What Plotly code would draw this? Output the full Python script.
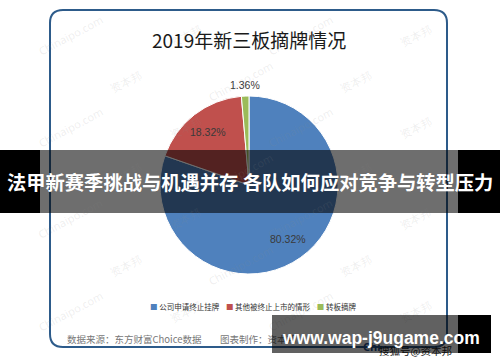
import math
import plotly.graph_objects as go

# ---- data ----
categories = ["公司申请终止挂牌", "其他被终止上市的情形", "转板摘牌"]
shares = [80.32, 18.32, 1.36]
colors = ["#4f81bd", "#c0504d", "#9bbb59"]
label_outside = [False, False, True]
title_text = "2019年新三板摘牌情况"
source_text = "数据来源：东方财富Choice数据"
maker_text = "图表制作：资本邦"
banner_text = "法甲新赛季挑战与机遇并存 各队如何应对竞争与转型压力"
site_text = "www.wap-j9ugame.com"
sohu_text = "搜狐号@资本邦"

W, H = 500, 362
def px(x): return x / W
def py(y): return 1 - y / H

def ann(x, y, text, xanchor="center", yanchor="middle", **kw):
    d = dict(x=px(x), y=py(y), xref="paper", yref="paper", showarrow=False,
             text=text, xanchor=xanchor, yanchor=yanchor)
    d.update(kw)
    return d

# pie geometry (pixels)
CX, CY, R = 249, 185, 89

fig = go.Figure()
fig.add_trace(go.Pie(
    labels=categories, values=shares, sort=False, direction="clockwise", rotation=0,
    marker=dict(colors=colors, line=dict(color="white", width=1)),
    textinfo="none", showlegend=False, hoverinfo="label+value",
    domain=dict(x=[px(CX - R), px(CX + R)], y=[py(CY + R), py(CY - R)]),
))

shapes = []
annotations = []

# faint watermark tiles (kept inside the picture)
wm = ["Chinaipo.com", "资本邦"]
for row in range(0, 7):
    for col in range(0, 4):
        x = 70 + col * 115 + (row % 2) * 55
        y = 35 + row * 46
        if x > 450:
            continue
        annotations.append(ann(x, y, wm[(row + col) % 2], textangle=-28,
                               font=dict(family="Noto Sans", size=11, color="rgba(140,140,140,0.15)")))

# percentage labels placed from the data (slice mid-angles)
total = sum(shares)
cum = 0.0
for v, out in zip(shares, label_outside):
    mid = (cum + v / 2) / total
    cum += v
    th = 2 * math.pi * mid
    f = 1.12 if out else 0.75
    lx = CX + R * f * math.sin(th)
    ly = CY - R * f * math.cos(th)
    annotations.append(ann(lx, ly, f"{v:.2f}%",
                           font=dict(family="Liberation Sans", size=10.5, color="#3a3a3a")))

# rounded frame
x0, x1, y0, y1, r = 50, 447, 10, 347, 13
path = (f"M {px(x0+r)},{py(y0)} L {px(x1-r)},{py(y0)} Q {px(x1)},{py(y0)} {px(x1)},{py(y0+r)} "
        f"L {px(x1)},{py(y1-r)} Q {px(x1)},{py(y1)} {px(x1-r)},{py(y1)} "
        f"L {px(x0+r)},{py(y1)} Q {px(x0)},{py(y1)} {px(x0)},{py(y1-r)} "
        f"L {px(x0)},{py(y0+r)} Q {px(x0)},{py(y0)} {px(x0+r)},{py(y0)} Z")
shapes.append(dict(type="path", path=path, xref="paper", yref="paper",
                   line=dict(color="#2d5b8a", width=2), layer="above"))

# banner
shapes.append(dict(type="rect", xref="paper", yref="paper", x0=px(0), x1=px(40), y0=py(213), y1=py(150),
                   fillcolor="black", line=dict(width=0), layer="above"))
shapes.append(dict(type="rect", xref="paper", yref="paper", x0=px(458), x1=px(500), y0=py(213), y1=py(150),
                   fillcolor="black", line=dict(width=0), layer="above"))
shapes.append(dict(type="rect", xref="paper", yref="paper", x0=px(40), x1=px(458), y0=py(213), y1=py(150),
                   fillcolor="rgba(0,0,0,0.57)", line=dict(width=0), layer="above"))
# bottom-right black part of site box
shapes.append(dict(type="rect", xref="paper", yref="paper", x0=px(458), x1=px(491), y0=py(353), y1=py(315),
                   fillcolor="black", line=dict(width=0), layer="above"))

# title
annotations.append(ann(249, 39, title_text,
                       font=dict(family="Noto Sans CJK SC", size=19, color="#1a1a1a")))

# legend
parts = []
for name, c in zip(categories, colors):
    parts.append(f'<span style="color:{c}">■</span> {name}')
annotations.append(ann(253, 306, "    ".join(parts),
                       font=dict(family="Noto Sans CJK SC", size=7.5, color="#333")))

# source lines
annotations.append(ann(65, 339, source_text, xanchor="left",
                       font=dict(family="Noto Sans CJK SC", size=9.5, color="#777")))
annotations.append(ann(218, 339, maker_text, xanchor="left",
                       font=dict(family="Noto Sans CJK SC", size=9.5, color="#777")))
annotations.append(ann(361, 346, "<b>Chi</b>", xanchor="left",
                       font=dict(family="Noto Sans", size=11, color="#1f4e8c")))
annotations.append(ann(377, 350, sohu_text, xanchor="left",
                       font=dict(family="Noto Sans CJK SC", size=10.5, color="#222")))

# site box (gray part) and text
annotations.append(ann(272, 315, " ", xanchor="left", yanchor="top", width=186, height=38,
                       bgcolor="rgba(0,0,0,0.62)", borderpad=0, borderwidth=0))
annotations.append(ann(380.5, 338, f"<b>{site_text}</b>",
                       font=dict(family="Liberation Sans", size=17.5, color="white")))

# banner text
annotations.append(ann(250, 182, f"<b>{banner_text}</b>",
                       font=dict(family="Noto Sans CJK SC", size=19.3, color="white")))

fig.update_layout(width=W, height=H, margin=dict(l=0, r=0, t=0, b=0),
                  paper_bgcolor="white", plot_bgcolor="white",
                  shapes=shapes, annotations=annotations)
fig.write_html("out.html", config={"displayModeBar": False},
               post_script="document.body.style.margin='0';document.body.style.padding='0';")
